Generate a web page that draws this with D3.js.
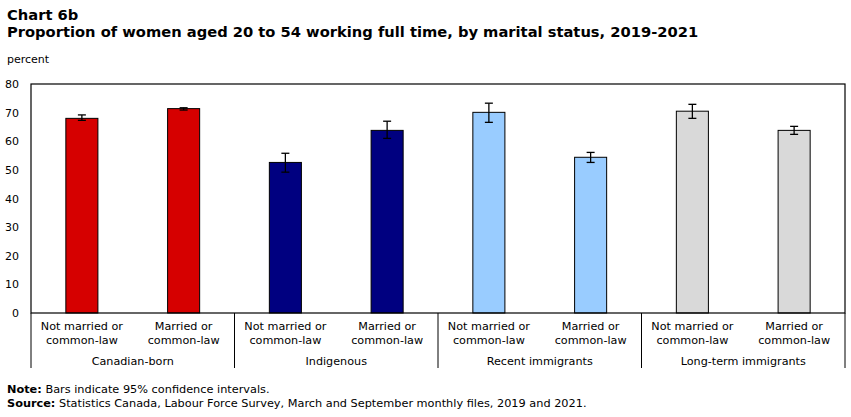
<!DOCTYPE html>
<html>
<head>
<meta charset="utf-8">
<script src="https://cdn.jsdelivr.net/npm/d3@7"></script>
<style>
  body { margin: 0; background: #fff; }
  text { font-family: Verdana, "DejaVu Sans", sans-serif; fill: #000; }
</style>
</head>
<body>
<div id="chart"></div>
<script>
// data
var groups = ["Canadian-born", "Indigenous", "Recent immigrants", "Long-term immigrants"];
var statuses = [["Not married or", "common-law"], ["Married or", "common-law"]];
var groupColors = ["#d60000", "#000080", "#99ccff", "#d9d9d9"];
var values = [68.0, 71.4, 52.6, 63.8, 70.1, 54.4, 70.5, 63.8];
var ciLow = [67.3, 70.9, 49.2, 61.0, 66.6, 52.6, 68.0, 62.4];
var ciHigh = [69.2, 71.7, 55.8, 67.0, 73.3, 56.1, 72.9, 65.2];
var yTicks = [0, 10, 20, 30, 40, 50, 60, 70, 80];

var width = 851, height = 417;
var margin = {top: 84, right: 6, bottom: 104, left: 31};
var w = width - margin.left - margin.right,
    h = height - margin.top - margin.bottom;

var svg = d3.select("#chart").append("svg")
    .attr("width", width)
    .attr("height", height);

// titles
svg.append("text").attr("x", 7).attr("y", 20)
    .style("font-size", "14.7px").style("font-weight", "bold")
    .text("Chart 6b");
svg.append("text").attr("x", 7).attr("y", 37)
    .style("font-size", "14.7px").style("font-weight", "bold")
    .text("Proportion of women aged 20 to 54 working full time, by marital status, 2019-2021");
svg.append("text").attr("x", 7).attr("y", 63)
    .style("font-size", "11px")
    .text("percent");

var g = svg.append("g")
    .attr("transform", "translate(" + margin.left + "," + margin.top + ")");

// build rows from the arrays
var data = values.map(function(v, i) {
  return {
    id: i,
    group: Math.floor(i / 2),
    status: i % 2,
    value: v,
    lo: ciLow[i],
    hi: ciHigh[i]
  };
});

var x = d3.scaleBand()
    .domain(data.map(function(d) { return d.id; }))
    .range([0, w])
    .paddingInner(0.685)
    .paddingOuter(0.3425);

var y = d3.scaleLinear()
    .domain([0, 80])
    .range([h, 0]);

// y axis labels
var yAxis = g.append("g")
    .call(d3.axisLeft(y).tickValues(yTicks).tickSize(0).tickPadding(12));
yAxis.select(".domain").remove();
yAxis.selectAll("text").style("font-size", "11px").style("font-family", "Verdana, 'DejaVu Sans', sans-serif");

// bars
g.selectAll("rect.bar")
    .data(data)
    .enter().append("rect")
    .attr("class", "bar")
    .attr("x", function(d) { return x(d.id); })
    .attr("y", function(d) { return y(d.value); })
    .attr("width", x.bandwidth())
    .attr("height", function(d) { return h - y(d.value); })
    .attr("fill", function(d) { return groupColors[d.group]; })
    .attr("stroke", "#000")
    .attr("stroke-width", 1);

// error bars
var eb = g.selectAll("g.err")
    .data(data)
    .enter().append("g")
    .attr("class", "err")
    .attr("transform", function(d) { return "translate(" + (x(d.id) + x.bandwidth() / 2) + ",0)"; });
eb.append("line")
    .attr("y1", function(d) { return y(d.lo); })
    .attr("y2", function(d) { return y(d.hi); })
    .attr("stroke", "#000").attr("stroke-width", 1.3);
eb.append("line")
    .attr("x1", -4).attr("x2", 4)
    .attr("y1", function(d) { return y(d.lo); })
    .attr("y2", function(d) { return y(d.lo); })
    .attr("stroke", "#000").attr("stroke-width", 1.3);
eb.append("line")
    .attr("x1", -4).attr("x2", 4)
    .attr("y1", function(d) { return y(d.hi); })
    .attr("y2", function(d) { return y(d.hi); })
    .attr("stroke", "#000").attr("stroke-width", 1.3);

// frame
g.append("rect")
    .attr("x", 0).attr("y", 0)
    .attr("width", w).attr("height", h)
    .attr("fill", "none")
    .attr("stroke", "#000").attr("stroke-width", 1.2);

// category labels
var step = x.step();
data.forEach(function(d) {
  var cx = x(d.id) + x.bandwidth() / 2;
  var t = g.append("text")
      .attr("x", cx)
      .attr("text-anchor", "middle")
      .style("font-size", "11.2px");
  t.append("tspan").attr("x", cx).attr("y", h + 17).text(statuses[d.status][0]);
  t.append("tspan").attr("x", cx).attr("y", h + 31).text(statuses[d.status][1]);
});

// group labels and separators
groups.forEach(function(name, i) {
  var x0 = x(i * 2) - x.paddingOuter() * step;
  var x1 = x0 + 2 * step;
  g.append("text")
      .attr("x", (x0 + x1) / 2)
      .attr("y", h + 52)
      .attr("text-anchor", "middle")
      .style("font-size", "11.2px")
      .text(name);
  g.append("line")
      .attr("x1", x0).attr("x2", x0)
      .attr("y1", h).attr("y2", h + 55)
      .attr("stroke", "#000").attr("stroke-width", 1);
  if (i === groups.length - 1) {
    g.append("line")
        .attr("x1", x1).attr("x2", x1)
        .attr("y1", h).attr("y2", h + 55)
        .attr("stroke", "#000").attr("stroke-width", 1);
  }
});

// notes
var note = svg.append("text").attr("x", 7).attr("y", 393).style("font-size", "11.3px");
note.append("tspan").style("font-weight", "bold").text("Note:");
note.append("tspan").text(" Bars indicate 95% confidence intervals.");
var src = svg.append("text").attr("x", 7).attr("y", 407).style("font-size", "11.3px");
src.append("tspan").style("font-weight", "bold").text("Source:");
src.append("tspan").text(" Statistics Canada, Labour Force Survey, March and September monthly files, 2019 and 2021.");
</script>
</body>
</html>
